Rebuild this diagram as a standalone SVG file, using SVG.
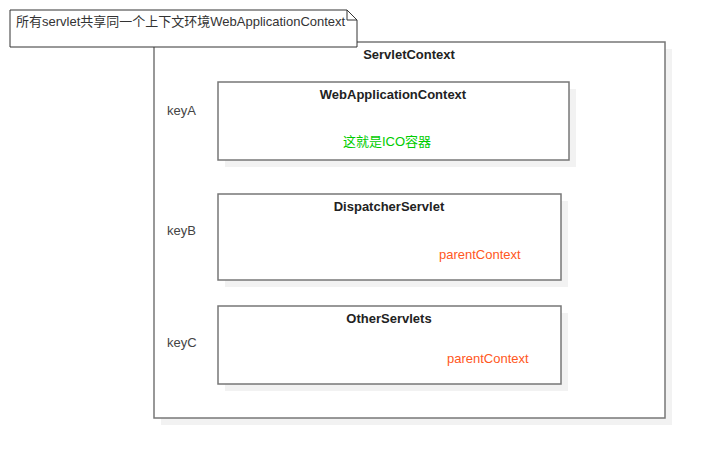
<svg xmlns="http://www.w3.org/2000/svg" width="705" height="458" viewBox="0 0 705 458">
<style>
text{font-family:"Liberation Sans","Noto Sans CJK SC",sans-serif;font-size:13px;fill:#333}
.t{font-weight:bold;fill:#222;text-anchor:middle}
.box{fill:#fff;stroke:#777;stroke-width:1.5}
.sh{fill:#f2f2f2}
.pc{fill:#ff5722}
.g{fill:#00cc00}
.k{fill:#444}
</style>
<rect width="705" height="458" fill="#fff"/>
<g id="servletContext">
<rect class="sh" x="161" y="49" width="511" height="376"/>
<rect class="box" x="154" y="42" width="511" height="376"/>
<text class="t" x="409" y="59">ServletContext</text>
<text class="k" x="167" y="115">keyA</text>
<text class="k" x="167" y="235">keyB</text>
<text class="k" x="167" y="347">keyC</text>
</g>
<g id="note">
<path d="M10 10 H347 L357 20 V47 H10 Z" fill="#fff" stroke="#333" stroke-width="1"/>
<path d="M347 10 V20 H357" fill="none" stroke="#333" stroke-width="1"/>
<text x="16" y="26">所有servlet共享同一个上下文环境WebApplicationContext</text>
</g>
<g id="webApplicationContext">
<rect class="sh" x="225" y="89" width="351" height="78"/>
<rect class="box" x="218" y="82" width="351" height="78"/>
<text class="t" x="393" y="99">WebApplicationContext</text>
<text class="g" x="387" y="146" text-anchor="middle">这就是ICO容器</text>
</g>
<g id="dispatcherServlet">
<rect class="sh" x="225" y="201" width="343" height="86"/>
<rect class="box" x="218" y="194" width="343" height="86"/>
<text class="t" x="389" y="211">DispatcherServlet</text>
<text class="pc" x="439" y="259">parentContext</text>
</g>
<g id="otherServlets">
<rect class="sh" x="225" y="313" width="343" height="78"/>
<rect class="box" x="218" y="306" width="343" height="78"/>
<text class="t" x="389" y="323">OtherServlets</text>
<text class="pc" x="447" y="363">parentContext</text>
</g>
<g id="connectors"></g>
</svg>
